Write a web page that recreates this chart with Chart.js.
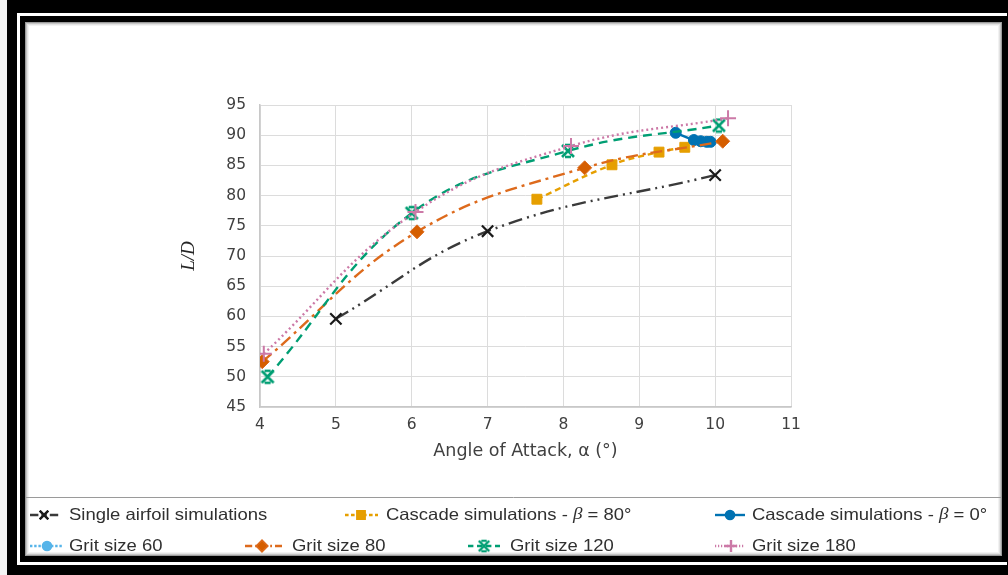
<!DOCTYPE html>
<html><head><meta charset="utf-8">
<script src="https://cdn.jsdelivr.net/npm/chart.js@4.4.1/dist/chart.umd.min.js"></script>
<style>html,body{margin:0;padding:0;background:#fff}canvas{display:block}</style>
</head><body>
<canvas id="c" width="1008" height="575"></canvas>
<script>
// ---- data ----
const xTicks = [4, 5, 6, 7, 8, 9, 10, 11];
const yTicks = [45, 50, 55, 60, 65, 70, 75, 80, 85, 90, 95];
const seriesLabels = [
  'Single airfoil simulations',
  'Cascade simulations - β = 80°',
  'Cascade simulations - β = 0°',
  'Grit size 60',
  'Grit size 80',
  'Grit size 120',
  'Grit size 180'
];
const singleAoA = [5, 7, 10];
const singleLD = [59.6, 74.1, 83.4];
const casc80AoA = [7.65, 8.64, 9.26, 9.6];
const casc80LD = [79.4, 85.1, 87.2, 88.0];
const casc0AoA = [9.48, 9.72, 9.81, 9.89, 9.94];
const casc0LD = [90.4, 89.2, 89.0, 88.9, 88.9];
const grit60AoA = [];
const grit60LD = [];
const grit80AoA = [4.03, 6.07, 8.28, 10.1];
const grit80LD = [52.5, 74.0, 84.6, 89.0];
const grit120AoA = [4.1, 6.0, 8.06, 10.05];
const grit120LD = [50.0, 77.1, 87.4, 91.6];
const grit180AoA = [4.05, 6.05, 8.1, 10.17];
const grit180LD = [53.8, 77.3, 88.2, 92.8];

const pts = (xs, ys) => xs.map((x, i) => ({x: x, y: ys[i]}));

// custom marker for grit 120 (X with short bars)
function starMarker(color) {
  const c = document.createElement('canvas');
  c.width = 16; c.height = 16;
  const g = c.getContext('2d');
  g.strokeStyle = color; g.lineWidth = 2.6; g.lineCap = 'butt';
  g.beginPath();
  g.moveTo(2, 2); g.lineTo(14, 14);
  g.moveTo(14, 2); g.lineTo(2, 14);
  g.moveTo(5, 2); g.lineTo(11, 2);
  g.moveTo(5, 14); g.lineTo(11, 14);
  g.stroke();
  return c;
}
const greenMarker = starMarker('#009E73');

const datasets = [
  {label: seriesLabels[0], data: pts(singleAoA, singleLD), borderColor: '#3a3a3a', backgroundColor: '#1a1a1a',
   pointBorderColor: '#1a1a1a', borderDash: [14, 5, 2, 5, 2, 5], pointStyle: 'crossRot', pointRadius: 8, pointBorderWidth: 2.2},
  {label: seriesLabels[1], data: pts(casc80AoA, casc80LD), borderColor: '#E69F00', backgroundColor: '#E69F00',
   borderDash: [6, 4], pointStyle: 'rect', pointRadius: 7, pointBorderWidth: 1},
  {label: seriesLabels[2], data: pts(casc0AoA, casc0LD), borderColor: '#0072B2', backgroundColor: '#0072B2',
   borderDash: [], pointStyle: 'circle', pointRadius: 5.5, pointBorderWidth: 1},
  {label: seriesLabels[3], data: pts(grit60AoA, grit60LD), borderColor: '#56B4E9', backgroundColor: '#56B4E9',
   borderDash: [4, 3], pointStyle: 'circle', pointRadius: 5.5, pointBorderWidth: 1},
  {label: seriesLabels[4], data: pts(grit80AoA, grit80LD), borderColor: '#DD6A1C', backgroundColor: '#D55E00',
   borderDash: [12, 5, 3, 5], pointStyle: 'rectRot', pointRadius: 7, pointBorderWidth: 1},
  {label: seriesLabels[5], data: pts(grit120AoA, grit120LD), borderColor: '#009E73', backgroundColor: '#009E73',
   borderDash: [9, 6], pointStyle: greenMarker, pointRadius: 8, pointBorderWidth: 2},
  {label: seriesLabels[6], data: pts(grit180AoA, grit180LD), borderColor: '#CC79A7', backgroundColor: '#CC79A7',
   borderDash: [2, 3], pointStyle: 'cross', pointRadius: 8, pointBorderWidth: 2}
].map((d, i) => Object.assign({
  showLine: true, borderWidth: 2.4, tension: 0.4, fill: false,
  pointHoverRadius: d.pointRadius
}, d, {order: 7 - i}));

// ---- frame plugin ----
const framePlugin = {
  id: 'frame',
  beforeDraw(chart) {
    const ctx = chart.ctx;
    ctx.save();
    ctx.fillStyle = '#f4f4f4'; ctx.fillRect(0, 0, 1008, 575);
    ctx.fillStyle = '#000'; ctx.fillRect(7, 0, 1001, 575);
    ctx.fillStyle = '#fff'; ctx.fillRect(17, 13, 990, 552);
    ctx.fillStyle = '#000'; ctx.fillRect(20, 16, 987, 546);
    ctx.fillStyle = '#fff'; ctx.fillRect(25, 22, 977, 534);
    const shades = ['#9a9a9a', '#c4c4c4', '#e2e2e2', '#f2f2f2'];
    ctx.lineWidth = 1;
    shades.forEach((s, i) => {
      ctx.strokeStyle = s;
      ctx.strokeRect(25.5 + i, 22.5 + i, 976 - 2 * i, 533 - 2 * i);
    });
    ctx.strokeStyle = '#9a9a9a';
    ctx.beginPath(); ctx.moveTo(25, 497.5); ctx.lineTo(1002, 497.5); ctx.stroke();
    ctx.restore();
  }
};

// ---- legend plugin ----
const legendPos = [
  {x0: 30, x1: 60, m: 44, tx: 69, y: 515},
  {x0: 345, x1: 378, m: 361, tx: 386, y: 515},
  {x0: 715, x1: 745, m: 730, tx: 752, y: 515},
  {x0: 30, x1: 62, m: 47, tx: 69, y: 546},
  {x0: 245, x1: 282, m: 262, tx: 292, y: 546},
  {x0: 468, x1: 500, m: 484, tx: 510, y: 546},
  {x0: 715, x1: 745, m: 731, tx: 752, y: 546}
];
const legendPlugin = {
  id: 'customLegend',
  afterDraw(chart) {
    const ctx = chart.ctx;
    chart.data.datasets.forEach((ds, i) => {
      const p = legendPos[i];
      ctx.save();
      ctx.strokeStyle = ds.borderColor;
      ctx.lineWidth = 2.4;
      ctx.setLineDash(ds.borderDash.map(v => v * 0.6));
      ctx.beginPath(); ctx.moveTo(p.x0, p.y); ctx.lineTo(p.x1, p.y); ctx.stroke();
      ctx.setLineDash([]);
      const r = ds.pointRadius * 0.75;
      if (ds.pointStyle instanceof HTMLCanvasElement) {
        ctx.drawImage(ds.pointStyle, p.m - 7, p.y - 7, 14, 14);
      } else {
        Chart.helpers.drawPoint(ctx, {
          pointStyle: ds.pointStyle, radius: r, rotation: 0,
          borderWidth: ds.pointBorderWidth
        }, p.m, p.y);
        ctx.fillStyle = ds.backgroundColor;
        ctx.strokeStyle = ds.pointBorderColor || ds.borderColor;
        ctx.lineWidth = ds.pointBorderWidth;
        ctx.fill(); ctx.stroke();
      }
      ctx.fillStyle = '#303030';
      ctx.textBaseline = 'middle';
      const sx = 1.12;
      ctx.translate(p.tx, p.y);
      ctx.scale(sx, 1);
      const normal = '16.5px "Liberation Sans", Arial, sans-serif';
      const ital = 'italic 17px "Liberation Serif", "DejaVu Serif", serif';
      let x = 0;
      ds.label.split(/(β)/).forEach(part => {
        if (!part) return;
        ctx.font = part === 'β' ? ital : normal;
        ctx.fillText(part, x, 0);
        x += ctx.measureText(part).width;
      });
      ctx.restore();
    });
  }
};

const axisFont = '"DejaVu Sans", Verdana, sans-serif';
new Chart(document.getElementById('c'), {
  type: 'scatter',
  data: {datasets: datasets},
  options: {
    responsive: false,
    animation: false,
    devicePixelRatio: 1,
    layout: {padding: {left: 160, right: 217, top: 105, bottom: 108}},
    plugins: {legend: {display: false}, tooltip: {enabled: false}},
    scales: {
      x: {
        type: 'linear', min: xTicks[0], max: xTicks[xTicks.length - 1],
        afterBuildTicks: s => { s.ticks = xTicks.map(v => ({value: v})); },
        afterFit: s => { s.height = 60; s.paddingLeft = 0; s.paddingRight = 0; },
        grid: {color: '#dcdcdc', drawTicks: false, lineWidth: 1},
        border: {color: '#c8c8c8', width: 1.5},
        ticks: {padding: 9, color: '#404040', font: {family: axisFont, size: 15.5}},
        title: {display: true, text: 'Angle of Attack, α (°)', color: '#404040',
          font: {family: axisFont, size: 17.5}, padding: {top: 0, bottom: 5}}
      },
      y: {
        type: 'linear', min: yTicks[0], max: yTicks[yTicks.length - 1],
        afterBuildTicks: s => { s.ticks = yTicks.map(v => ({value: v})); },
        afterFit: s => { s.width = 100; s.paddingTop = 0; s.paddingBottom = 0; },
        grid: {color: '#dcdcdc', drawTicks: false, lineWidth: 1},
        border: {color: '#c8c8c8', width: 1.5},
        ticks: {padding: 14, color: '#404040', font: {family: axisFont, size: 15.5}},
        title: {display: true, text: 'L/D', color: '#262626',
          font: {family: '"Liberation Serif", "DejaVu Serif", serif', size: 19, style: 'italic'}, padding: {top: 18, bottom: 0}}
      }
    }
  },
  plugins: [framePlugin, legendPlugin]
});
</script>
</body></html>
